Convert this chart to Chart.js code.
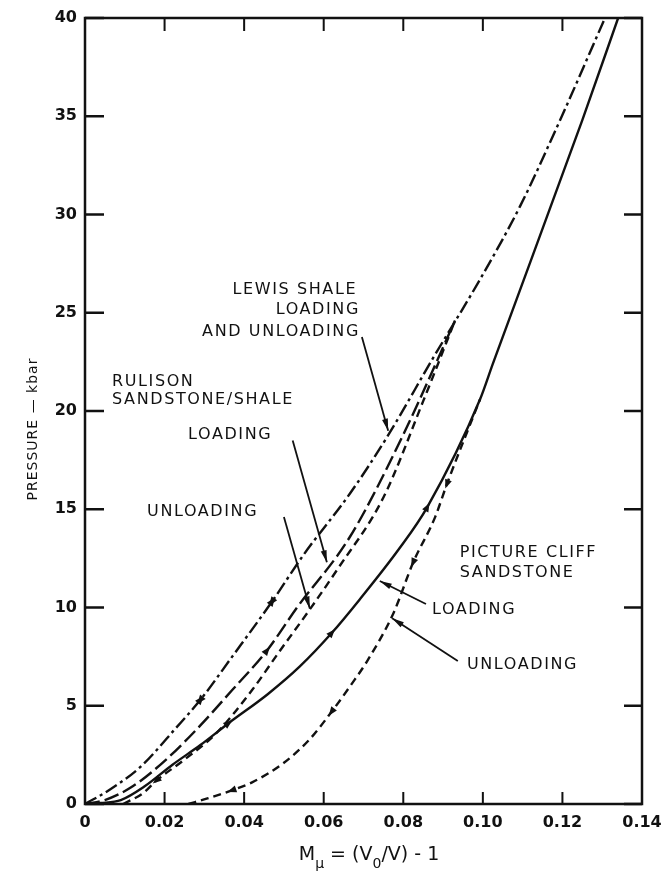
<!DOCTYPE html>
<html>
<head>
<meta charset="utf-8">
<script src="https://cdn.jsdelivr.net/npm/chart.js@4.4.1/dist/chart.umd.min.js"></script>
<style>
html, body { margin: 0; padding: 0; background: #fff; }
#wrap { width: 665px; height: 879px; position: relative; }
</style>
</head>
<body>
<div id="wrap"><canvas id="c"></canvas></div>
<script>
// axis ticks
var xTicks = [0, 0.02, 0.04, 0.06, 0.08, 0.10, 0.12, 0.14];
var xTickLabels = ["0", "0.02", "0.04", "0.06", "0.08", "0.10", "0.12", "0.14"];
var yTicks = [0, 5, 10, 15, 20, 25, 30, 35, 40];

// Lewis shale, loading and unloading (dash-dot)
var lewisX = [0, 0.006, 0.014, 0.023, 0.029, 0.037, 0.047, 0.055, 0.0666, 0.076, 0.0875, 0.0993, 0.1093, 0.1194, 0.1307];
var lewisY = [0, 0.7, 1.9, 3.9, 5.3, 7.5, 10.3, 12.7, 15.8, 18.7, 22.7, 26.7, 30.4, 34.8, 40];

// Rulison sandstone/shale
var rulLoadX = [0, 0.005, 0.012, 0.0206, 0.029, 0.037, 0.0457, 0.0533, 0.0666, 0.080, 0.093];
var rulLoadY = [0, 0.2, 0.9, 2.3, 4.0, 5.8, 7.8, 10.0, 13.6, 18.8, 24.6];
var rulUnloadX = [0.0096, 0.0146, 0.018, 0.0246, 0.033, 0.042, 0.049, 0.0565, 0.0633, 0.075, 0.085, 0.093];
var rulUnloadY = [0, 0.55, 1.2, 2.2, 3.6, 5.8, 7.8, 9.9, 11.9, 15.6, 20.5, 24.6];

// Picture Cliff sandstone
var pcLoadX = [0, 0.004, 0.009, 0.015, 0.022, 0.029, 0.036, 0.046, 0.054, 0.062, 0.069, 0.079, 0.086, 0.0993, 0.1025, 0.125, 0.134];
var pcLoadY = [0, 0.05, 0.2, 0.9, 2.0, 3.0, 4.1, 5.6, 7.0, 8.7, 10.4, 13.0, 15.1, 20.6, 22.4, 34.8, 40];
var pcUnloadX = [0.026, 0.031, 0.037, 0.042, 0.050, 0.0565, 0.062, 0.067, 0.071, 0.0775, 0.0825, 0.088, 0.091, 0.0993];
var pcUnloadY = [0, 0.3, 0.7, 1.1, 2.1, 3.3, 4.7, 6.1, 7.3, 9.7, 12.3, 14.6, 16.3, 20.6];

function pts(xs, ys) {
    return xs.map(function(x, i) { return { x: x, y: ys[i] }; });
}

var INK = "#111";
var LABEL_FONT = "16px 'DejaVu Sans'";

// text notes and leader lines, in data units
var notes = [
    { t: "LEWIS SHALE", x: 0.0684, y: 26.16, align: "right" },
    { t: "LOADING", x: 0.0691, y: 25.14, align: "right" },
    { t: "AND UNLOADING", x: 0.0691, y: 24.02, align: "right" },
    { t: "RULISON", x: 0.0068, y: 21.5, align: "left" },
    { t: "SANDSTONE/SHALE", x: 0.0068, y: 20.56, align: "left" },
    { t: "LOADING", x: 0.0259, y: 18.78, align: "left" },
    { t: "UNLOADING", x: 0.0156, y: 14.86, align: "left" },
    { t: "PICTURE CLIFF", x: 0.0942, y: 12.77, align: "left" },
    { t: "SANDSTONE", x: 0.0942, y: 11.76, align: "left" },
    { t: "LOADING", x: 0.0872, y: 9.87, align: "left" },
    { t: "UNLOADING", x: 0.096, y: 7.07, align: "left" }
];
var leaders = [
    { from: [0.0696, 23.77], to: [0.0762, 19.0] },
    { from: [0.0522, 18.5], to: [0.0608, 12.3] },
    { from: [0.0500, 14.6], to: [0.0565, 9.95] },
    { from: [0.0857, 10.18], to: [0.0741, 11.35] },
    { from: [0.0937, 7.28], to: [0.0772, 9.45] }
];

function arrowHead(ctx, x0, y0, x1, y1, len, half) {
    var a = Math.atan2(y1 - y0, x1 - x0);
    ctx.beginPath();
    ctx.moveTo(x1, y1);
    ctx.lineTo(x1 - len * Math.cos(a) + half * Math.sin(a), y1 - len * Math.sin(a) - half * Math.cos(a));
    ctx.lineTo(x1 - len * Math.cos(a) - half * Math.sin(a), y1 - len * Math.sin(a) + half * Math.cos(a));
    ctx.closePath();
    ctx.fill();
}

var framePlugin = {
    id: "frame",
    afterDraw: function(chart) {
        var ctx = chart.ctx, a = chart.chartArea;
        var xs = chart.scales.x, ys = chart.scales.y;
        ctx.save();
        ctx.strokeStyle = INK;
        ctx.lineWidth = 2.5;
        ctx.strokeRect(a.left, a.top, a.right - a.left, a.bottom - a.top);
        ctx.lineWidth = 2;
        ctx.beginPath();
        xTicks.forEach(function(v) {
            var px = xs.getPixelForValue(v);
            ctx.moveTo(px, a.bottom); ctx.lineTo(px, a.bottom - 12);
            ctx.moveTo(px, a.top); ctx.lineTo(px, a.top + 13);
        });
        ctx.stroke();
        ctx.lineWidth = 2.5;
        ctx.beginPath();
        yTicks.forEach(function(v) {
            var py = ys.getPixelForValue(v);
            ctx.moveTo(a.left, py); ctx.lineTo(a.left + 19, py);
            ctx.moveTo(a.right, py); ctx.lineTo(a.right - 18, py);
        });
        ctx.stroke();

        // curve direction arrows
        ctx.fillStyle = INK;
        chart.data.datasets.forEach(function(ds, di) {
            if (!ds.arrowIdx) return;
            var meta = chart.getDatasetMeta(di);
            ds.arrowIdx.forEach(function(i) {
                var p0 = meta.data[i - 1], p = meta.data[i], p1 = meta.data[i + 1];
                var dx = p1.x - p0.x, dy = p1.y - p0.y, d = Math.sqrt(dx * dx + dy * dy);
                dx /= d; dy /= d;
                var dir = ds.arrowDir;
                (dir === 0 ? [1, -1] : [dir]).forEach(function(s) {
                    var tx = p.x + s * dx * 5, ty = p.y + s * dy * 5;
                    arrowHead(ctx, p.x - s * dx * 4, p.y - s * dy * 4, tx, ty, 9, 3.5);
                });
            });
        });

        // notes
        ctx.font = LABEL_FONT;
        ctx.letterSpacing = "1.6px";
        ctx.textBaseline = "middle";
        notes.forEach(function(n) {
            ctx.textAlign = n.align;
            ctx.fillText(n.t, xs.getPixelForValue(n.x), ys.getPixelForValue(n.y));
        });
        ctx.letterSpacing = "0px";
        ctx.lineWidth = 1.8;
        leaders.forEach(function(l) {
            var x0 = xs.getPixelForValue(l.from[0]), y0 = ys.getPixelForValue(l.from[1]);
            var x1 = xs.getPixelForValue(l.to[0]), y1 = ys.getPixelForValue(l.to[1]);
            ctx.beginPath(); ctx.moveTo(x0, y0); ctx.lineTo(x1, y1); ctx.stroke();
            arrowHead(ctx, x0, y0, x1, y1, 12, 3);
        });

        // axis titles
        ctx.textAlign = "center";
        ctx.save();
        ctx.translate(33, (a.top + a.bottom) / 2 + 18);
        ctx.rotate(-Math.PI / 2);
        ctx.font = "14px 'DejaVu Sans'";
        ctx.letterSpacing = "1px";
        ctx.fillText("PRESSURE \u2014 kbar", 0, 0);
        ctx.restore();

        var parts = [["M", 0], ["\u03bc", 1], [" = (V", 0], ["0", 1], ["/V) - 1", 0]];
        var big = "19px 'DejaVu Sans'", small = "14px 'DejaVu Sans'";
        var w = 0;
        parts.forEach(function(p) { ctx.font = p[1] ? small : big; w += ctx.measureText(p[0]).width; });
        var cx = 369 - w / 2, cy = 855;
        ctx.textAlign = "left";
        parts.forEach(function(p) {
            ctx.font = p[1] ? small : big;
            ctx.fillText(p[0], cx, p[1] ? cy + 9 : cy);
            cx += ctx.measureText(p[0]).width;
        });
        ctx.restore();
    }
};

var tickFont = { family: "'DejaVu Sans'", size: 16, weight: "bold" };

new Chart(document.getElementById("c"), {
    type: "line",
    data: {
        datasets: [
            { label: "Lewis shale", data: pts(lewisX, lewisY), borderDash: [13, 4, 3, 4], arrowIdx: [4, 6], arrowDir: 0 },
            { label: "Rulison loading", data: pts(rulLoadX, rulLoadY), borderDash: [15, 5], arrowIdx: [6], arrowDir: 1 },
            { label: "Rulison unloading", data: pts(rulUnloadX, rulUnloadY), borderDash: [8, 5], arrowIdx: [2], arrowDir: -1 },
            { label: "Picture Cliff loading", data: pts(pcLoadX, pcLoadY), borderDash: [], arrowIdx: [6, 9, 12], arrowDir: 1 },
            { label: "Picture Cliff unloading", data: pts(pcUnloadX, pcUnloadY), borderDash: [8, 5], arrowIdx: [2, 6, 10, 12], arrowDir: -1 }
        ]
    },
    options: {
        animation: false,
        responsive: true,
        maintainAspectRatio: false,
        layout: { padding: { top: 18, right: 23, left: 0, bottom: 0 }, autoPadding: false },
        elements: {
            line: { borderColor: INK, borderWidth: 2.4, cubicInterpolationMode: "monotone", fill: false },
            point: { radius: 0, hoverRadius: 0 }
        },
        scales: {
            x: {
                type: "linear", min: 0, max: 0.14,
                grid: { display: false, drawTicks: false },
                border: { display: false },
                afterBuildTicks: function(s) { s.ticks = xTicks.map(function(v) { return { value: v }; }); },
                afterFit: function(s) { s.height = 75; s.paddingLeft = 0; s.paddingRight = 0; },
                ticks: {
                    color: INK, font: tickFont, padding: 9, maxRotation: 0, autoSkip: false,
                    callback: function(v, i) { return xTickLabels[i]; }
                }
            },
            y: {
                type: "linear", min: 0, max: 40,
                grid: { display: false, drawTicks: false },
                border: { display: false },
                afterBuildTicks: function(s) { s.ticks = yTicks.map(function(v) { return { value: v }; }); },
                afterFit: function(s) { s.width = 85; s.paddingTop = 0; s.paddingBottom = 0; },
                ticks: { color: INK, font: tickFont, padding: 8, autoSkip: false }
            }
        },
        plugins: { legend: { display: false }, tooltip: { enabled: false } }
    },
    plugins: [framePlugin]
});
</script>
</body>
</html>
